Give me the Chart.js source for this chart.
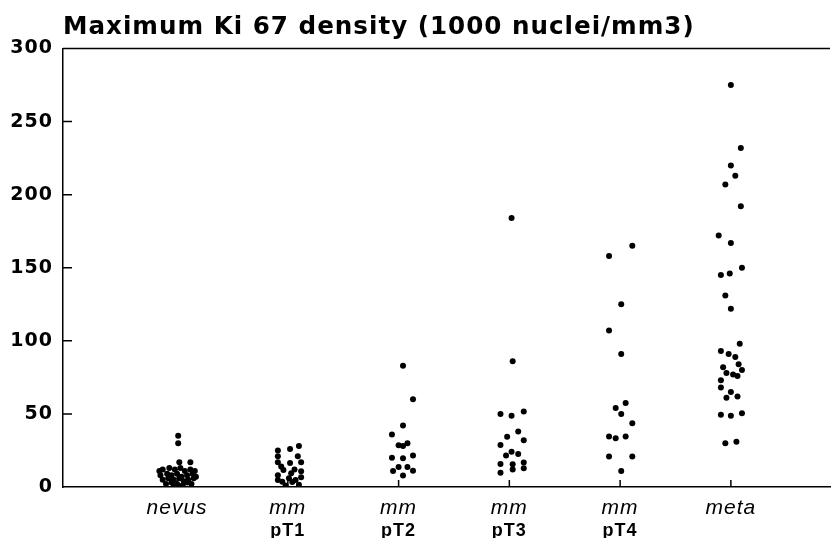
<!DOCTYPE html>
<html>
<head>
<meta charset="utf-8">
<script src="https://cdn.jsdelivr.net/npm/chart.js@4.4.1/dist/chart.umd.min.js"></script>
<style>
  html, body { margin: 0; padding: 0; background: #fff; }
  #wrap { width: 833px; height: 538px; }
</style>
</head>
<body>
<div id="wrap"><canvas id="ki67Chart" width="833" height="538"></canvas></div>
<script>
// groups along the x axis (first line italic, second line upright)
const categories = [['nevus'], ['mm', 'pT1'], ['mm', 'pT2'], ['mm', 'pT3'], ['mm', 'pT4'], ['meta']];
const yTicks = [0, 50, 100, 150, 200, 250, 300];
const chartTitle = 'Maximum Ki 67 density (1000 nuclei/mm3)';

// values (1000 nuclei/mm3)
const nevusValues = [35, 30, 17, 17, 11, 12, 13, 12, 13, 11, 12, 11, 8, 9, 8, 9, 7, 8, 9, 7, 5, 6, 5, 6, 4, 5, 6, 2, 3, 2, 1, 3, 2, 0.5, 0.5];
const pT1Values = [25, 26, 28, 21, 21, 17, 16.5, 17, 14, 11.7, 12, 9.4, 10.7, 8, 6, 6.6, 4.8, 4.8, 3.6, 3.5, 1, 1.5];
const pT2Values = [83, 60, 42, 36, 28.5, 28, 30, 20, 19.6, 21.5, 11, 13.7, 13.7, 11.2, 7.8];
const pT3Values = [184, 86, 50, 48.7, 51.6, 38, 34.4, 32, 28.8, 24.2, 21.5, 22.6, 15.8, 15.6, 16.7, 12.8, 12, 9.8];
const pT4Values = [165, 158, 125, 107, 91, 57.4, 54, 50, 43.7, 34.6, 33.4, 34.5, 20.8, 20.8, 11];
const metaValues = [275, 232, 220, 213, 207, 192, 172, 167, 150, 146, 145, 131, 122, 98, 93, 91, 89, 84, 82, 80, 78, 77, 76, 73,
                    68, 65, 61, 62, 49.4, 48.7, 50.5, 30, 31];

// sideways scatter of each dot inside its column, in category units
const nevusSpread = [0.01, 0.01, 0.02, 0.12, -0.16, -0.13, -0.07, -0.02, 0.03, 0.07, 0.12, 0.16, -0.15, -0.09, -0.05, 0, 0.04, 0.09, 0.14, 0.17,
                     -0.13, -0.08, -0.03, 0.02, 0.06, 0.1, 0.15, -0.1, -0.05, 0, 0.05, 0.09, 0.13, -0.03, 0.04];
const pT1Spread = [-0.09, 0.02, 0.1, -0.09, 0.09, -0.09, 0.02, 0.12, -0.06, -0.04, 0.06, 0.03, 0.12, -0.09, 0.01, 0.12, -0.09, 0.07, -0.05, 0.04, -0.02, 0.1];
const pT2Spread = [0.04, 0.13, 0.04, -0.06, 0, 0.04, 0.08, -0.06, 0.04, 0.13, -0.05, 0, 0.08, 0.13, 0.04];
const pT3Spread = [0.02, 0.03, -0.08, 0.02, 0.13, 0.08, -0.02, 0.13, -0.08, 0.02, -0.03, 0.08, -0.08, 0.03, 0.13, 0.13, 0.03, -0.08];
const pT4Spread = [0.11, -0.1, 0.01, -0.1, 0.01, 0.05, -0.04, 0.01, 0.11, -0.1, -0.04, 0.05, -0.1, 0.11, 0.01];
const metaSpread = [0, 0.09, 0, 0.04, -0.05, 0.09, -0.11, 0, 0.1, -0.01, -0.09, -0.05, 0, 0.08, -0.09, -0.02, 0.04, 0.07, -0.07, 0.1, -0.04, 0.02, 0.06, -0.09,
                    -0.09, 0, -0.04, 0.06, -0.09, 0, 0.1, -0.05, 0.05];

const groups = [
    [nevusValues, nevusSpread],
    [pT1Values, pT1Spread],
    [pT2Values, pT2Spread],
    [pT3Values, pT3Spread],
    [pT4Values, pT4Spread],
    [metaValues, metaSpread]
];

const datasets = groups.map(([values, spread], i) => ({
    label: categories[i].join(' '),
    data: values.map((v, k) => ({ x: i + 1 + spread[k], y: v })),
    backgroundColor: '#000',
    borderWidth: 0,
    pointRadius: 3,
    pointHoverRadius: 3,
    pointStyle: 'circle'
}));

// frame top line, inward ticks and two-line category labels
const axisExtras = {
    id: 'axisExtras',
    beforeDraw(chart) {
        chart.ctx.letterSpacing = '1px';
    },
    afterDraw(chart) {
        const { ctx, chartArea, scales: { x, y } } = chart;
        ctx.save();
        ctx.strokeStyle = '#000';
        ctx.lineWidth = 1.5;
        ctx.beginPath();
        ctx.moveTo(chartArea.left, chartArea.top);
        ctx.lineTo(chartArea.right, chartArea.top);
        yTicks.forEach(t => {
            if (t === 0 || t === 300) return;
            const py = y.getPixelForValue(t);
            ctx.moveTo(chartArea.left, py);
            ctx.lineTo(chartArea.left + 9, py);
        });
        categories.forEach((c, i) => {
            const px = x.getPixelForValue(i + 1);
            ctx.moveTo(px, chartArea.bottom);
            ctx.lineTo(px, chartArea.bottom - 7);
        });
        ctx.stroke();

        ctx.fillStyle = '#000';
        ctx.textAlign = 'center';
        ctx.textBaseline = 'alphabetic';
        categories.forEach((lines, i) => {
            const px = x.getPixelForValue(i + 1);
            ctx.font = 'italic 21px "Liberation Sans"';
            ctx.fillText(lines[0], px, 514);
            if (lines[1]) {
                ctx.font = 'bold 18px "Liberation Sans"';
                ctx.fillText(lines[1], px, 536);
            }
        });
        ctx.restore();
    }
};

new Chart(document.getElementById('ki67Chart'), {
    type: 'scatter',
    data: { datasets },
    options: {
        responsive: false,
        animation: false,
        devicePixelRatio: 1,
        layout: { padding: 0 },
        plugins: {
            legend: { display: false },
            tooltip: { enabled: false },
            title: {
                display: true,
                text: chartTitle,
                align: 'start',
                fullSize: false,
                color: '#000',
                font: { family: '"DejaVu Sans"', size: 24.6, weight: 'bold' },
                padding: { top: 13, bottom: 6 }
            }
        },
        scales: {
            x: {
                type: 'linear',
                min: -0.03,
                max: 6.895,
                grid: { display: false },
                border: { display: true, color: '#000', width: 1.5 },
                ticks: { display: false },
                afterFit(scale) { scale.height = 51; }
            },
            y: {
                min: 0,
                max: 300,
                afterBuildTicks(scale) { scale.ticks = yTicks.map(v => ({ value: v })); },
                grid: { display: false, drawTicks: false },
                border: { display: true, color: '#000', width: 1.5 },
                ticks: {
                    color: '#000',
                    padding: 10,
                    font: { family: '"DejaVu Sans"', size: 19, weight: 'bold' }
                },
                afterFit(scale) { scale.width = 63; }
            }
        }
    },
    plugins: [axisExtras]
});
</script>
</body>
</html>
